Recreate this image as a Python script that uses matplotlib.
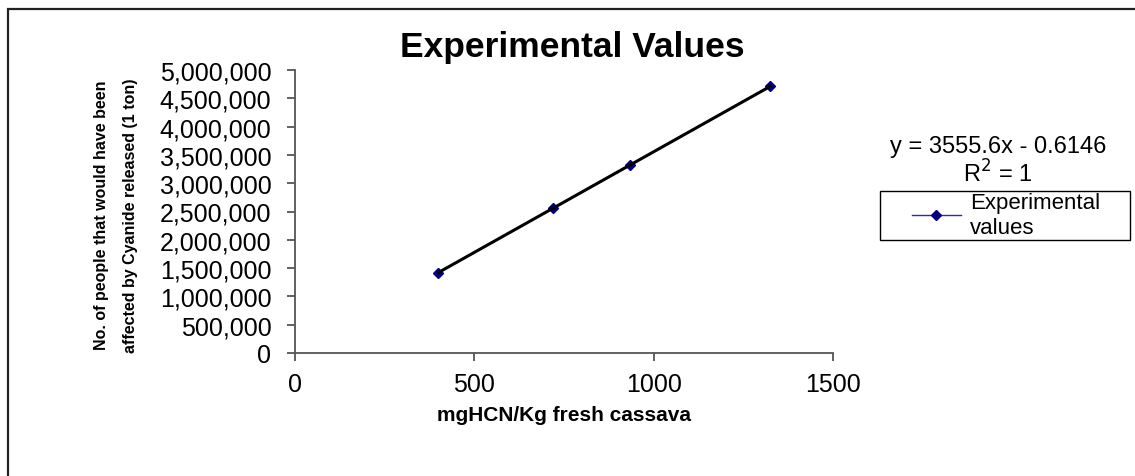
import matplotlib
matplotlib.use("Agg")
import matplotlib.pyplot as plt
import numpy as np
from matplotlib.patches import Rectangle
from matplotlib.ticker import FuncFormatter

plt.rcParams['font.family'] = ['Liberation Sans', 'DejaVu Sans']

# Data
hcn = [400, 720, 935, 1325]                       # mgHCN/Kg fresh cassava
people = [1422000, 2560000, 3324000, 4711000]      # people affected
x_ticks = [0, 500, 1000, 1500]
y_ticks = [0, 500000, 1000000, 1500000, 2000000, 2500000,
           3000000, 3500000, 4000000, 4500000, 5000000]
title = "Experimental Values"
xlabel = "mgHCN/Kg fresh cassava"
ylabel = "No. of people that would have been\naffected by Cyanide released (1 ton)"
series_label = "Experimental\nvalues"
eq_text = "y = 3555.6x - 0.6146"
r2_text = "R$^2$ = 1"

W, H = 1135, 477
fig = plt.figure(figsize=(W / 100, H / 100), dpi=100)

# outer chart border
fig.patches.append(Rectangle((8 / W, -0.1), 1.2, 1.1 - 10 / H, transform=fig.transFigure,
                             fill=False, edgecolor='#222222', linewidth=1.6))

ax = fig.add_axes([295 / W, 1 - 354 / H, (833 - 295) / W, (354 - 71) / H])

# series
ax.plot(hcn, people, color='#2b2bb0', linewidth=1.0, marker='D', markersize=5,
        markerfacecolor='#000080', markeredgecolor='#000080', label=series_label, zorder=2)
# linear trendline
coef = np.polyfit(hcn, people, 1)
xs = np.array([min(hcn), max(hcn)])
ax.plot(xs, np.polyval(coef, xs), color='black', linewidth=2.2, zorder=3)

ax.set_xlim(0, 1500)
ax.set_ylim(0, 5000000)
ax.set_xticks(x_ticks)
ax.set_yticks(y_ticks)
ax.yaxis.set_major_formatter(FuncFormatter(lambda v, p: f"{int(v):,}"))
ax.xaxis.set_major_formatter(FuncFormatter(lambda v, p: f"{int(v)}"))

for s in ['top', 'right']:
    ax.spines[s].set_visible(False)
for s in ['left', 'bottom']:
    ax.spines[s].set_color('#555555')
    ax.spines[s].set_linewidth(1.3)
ax.tick_params(axis='both', direction='out', length=6, width=1.3, color='#555555',
               labelsize=18, labelcolor='black')
ax.tick_params(axis='y', pad=11)
ax.tick_params(axis='x', pad=8)

ax.set_xlabel(xlabel, fontsize=15, fontweight='bold', labelpad=6)
ax.set_ylabel(ylabel, fontsize=11.5, fontweight='bold', linespacing=2.2)
ax.yaxis.set_label_coords(-0.292, 0.49)

fig.text(572 / W, 1 - 47 / H, title, fontsize=25.5, fontweight='bold',
         ha='center', va='center')

fig.text(998 / W, 1 - 147 / H, eq_text, fontsize=17, ha='center', va='center')
fig.text(998 / W, 1 - 174 / H, r2_text, fontsize=17, ha='center', va='center')

# legend (frame drawn separately to reproduce the wide Excel-style box)
leg = fig.legend(loc='center left', bbox_to_anchor=(912 / W, 1 - 216 / H),
                 fontsize=16, frameon=False,
                 handlelength=2.2, borderpad=0.0, handletextpad=0.4,
                 borderaxespad=0, labelspacing=0.2)
fig.patches.append(Rectangle((880 / W, 1 - 241 / H), 250 / W, 49 / H,
                             transform=fig.transFigure, fill=False,
                             edgecolor='black', linewidth=1.0))

fig.savefig("out.png", dpi=100)
